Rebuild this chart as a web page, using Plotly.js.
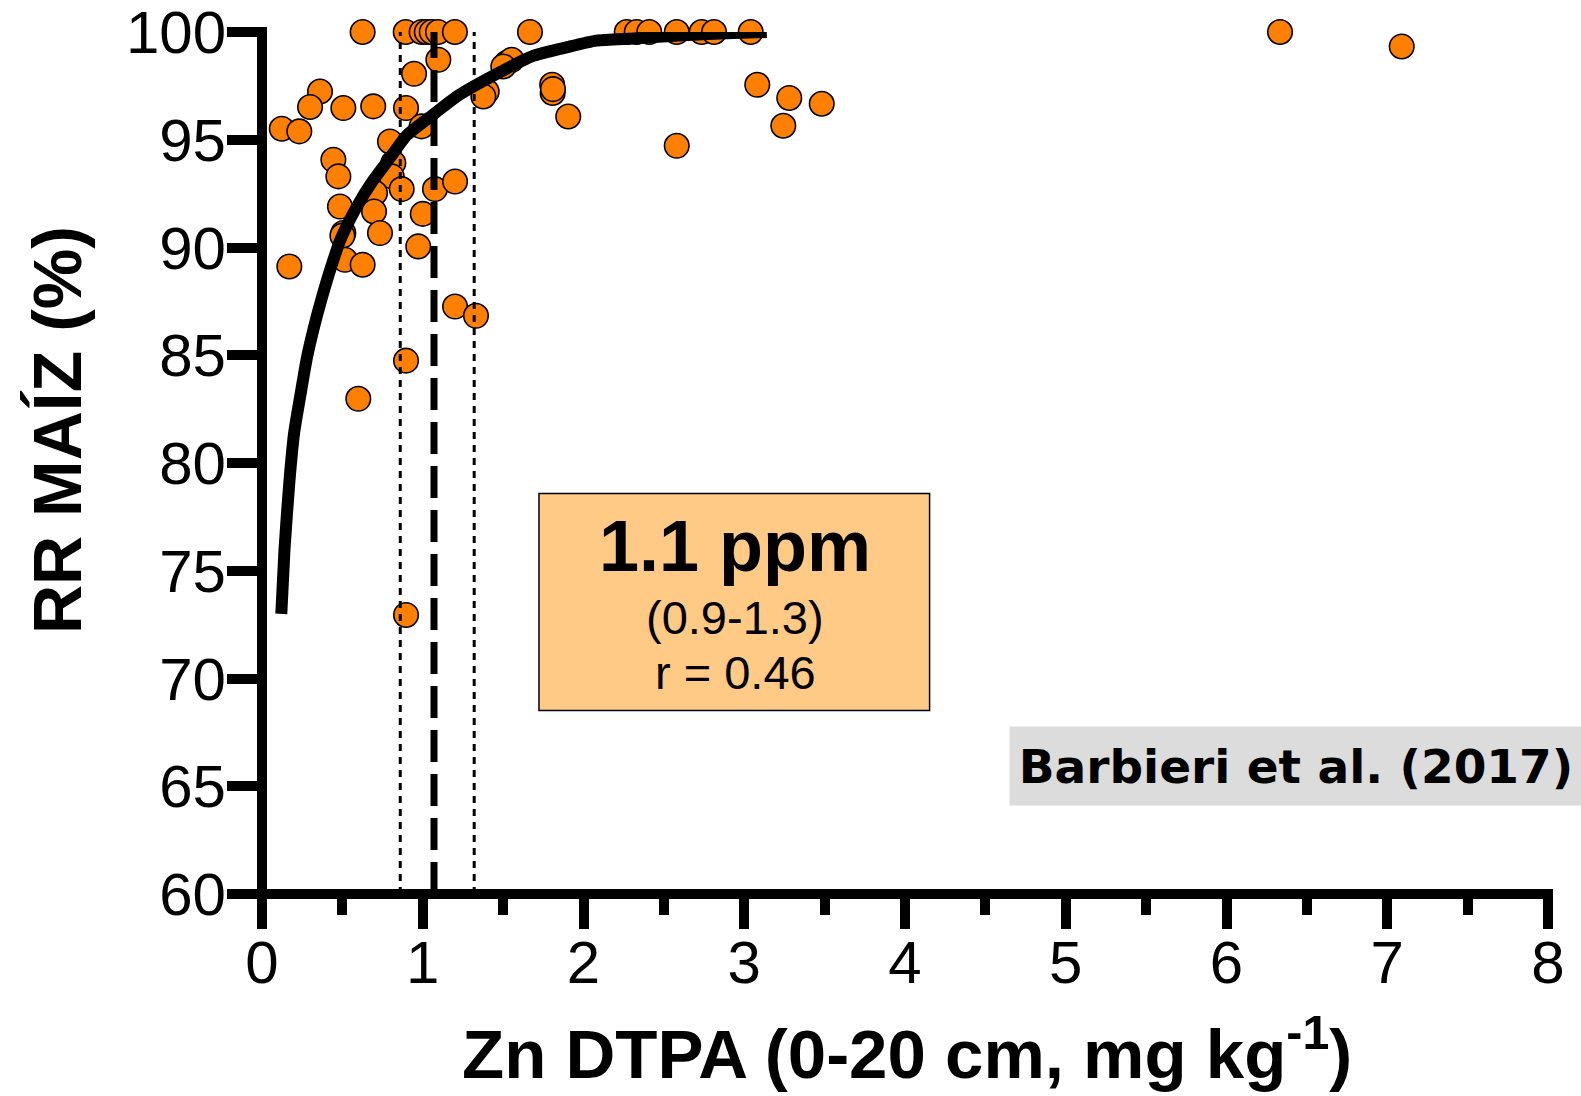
<!DOCTYPE html>
<html>
<head>
<meta charset="utf-8">
<script src="https://cdn.plot.ly/plotly-3.0.1.min.js"></script>
<style>html,body{margin:0;padding:0;background:#fff;}#chart{width:1581px;height:1096px;}</style>
</head>
<body>
<div id="chart"></div>
<script>
// Observed points: Zn DTPA (mg/kg) vs relative yield (%)
const znX = [0.626,0.894,0.993,1.025,1.056,1.095,1.2,1.667,2.269,2.331,2.409,2.58,2.735,2.812,3.04,6.333,
  1.097,0.946,0.361,0.299,0.506,0.692,0.896,0.123,0.232,0.993,1.398,1.377,1.522,1.553,1.501,
  0.796,0.444,0.475,0.817,0.807,0.869,1.076,1.201,0.703,0.485,0.697,1.0,0.734,0.506,0.5,0.972,
  0.17,0.516,0.626,1.201,1.331,0.896,0.599,0.896,1.805,1.808,1.81,1.905,2.58,3.081,3.28,3.482,3.243,7.09];
const rrY = [100,100,100,100,100,100,100,100,100,100,100,100,100,100,100,100,
  98.71,98.06,97.24,96.52,96.47,96.55,96.47,95.51,95.39,95.62,97.24,97.01,98.56,98.71,98.40,
  94.92,94.07,93.30,93.92,93.30,92.71,92.71,93.06,92.53,91.90,91.67,91.56,90.67,90.67,90.55,90.05,
  89.12,89.43,89.20,87.26,86.83,84.75,82.98,72.95,97.55,97.17,97.35,96.08,94.72,97.55,96.94,96.67,95.65,99.33];

// Fitted response curve
const fitX = [0.12,0.14,0.17,0.2,0.24,0.28,0.32,0.37,0.43,0.49,0.59,0.69,0.8,0.9,1.07,1.21,1.42,1.69,1.9,2.08,2.31,2.62,2.93,3.14];
const fitY = [73.0,76.0,79.1,81.4,83.2,84.9,86.2,87.6,89.1,90.4,91.9,93.1,94.2,95.2,96.2,97.0,97.9,98.9,99.3,99.6,99.7,99.85,99.95,100];

// Critical level and its confidence interval
const critX = [1.07];
const ciX = [0.86, 1.32];

const xTicks = [0,1,2,3,4,5,6,7,8];
const yTicks = [60,65,70,75,80,85,90,95,100];

const boxTitle = "1.1 ppm";
const boxCI = "(0.9-1.3)";
const boxR = "r = 0.46";
const sourceLabel = "Barbieri et al. (2017)";
const xTitle = "Zn DTPA (0-20 cm, mg kg<sup>-1</sup>)";
const yTitle = "RR MAÍZ (%)";

const yMin = yTicks[0], yMax = yTicks[yTicks.length - 1];
const xMin = xTicks[0], xMax = xTicks[xTicks.length - 1];

const traces = [];
traces.push({
  x: znX, y: rrY, type: 'scatter', mode: 'markers', cliponaxis: false,
  marker: {size: 24.5, color: '#FF8000', line: {color: '#000', width: 1.6}},
  hoverinfo: 'skip'
});
ciX.forEach(v => traces.push({
  x: [v, v], y: [yMin, yMax], type: 'scatter', mode: 'lines', cliponaxis: false,
  line: {color: '#000', width: 3, dash: '7px,6px'}, hoverinfo: 'skip'
}));
critX.forEach(v => traces.push({
  x: [v, v], y: [yMin, yMax], type: 'scatter', mode: 'lines', cliponaxis: false,
  line: {color: '#000', width: 7, dash: '32px,12px'}, hoverinfo: 'skip'
}));
traces.push({
  x: fitX, y: fitY, type: 'scatter', mode: 'lines', cliponaxis: false,
  line: {color: '#000', width: 12, shape: 'spline', smoothing: 0.6}, hoverinfo: 'skip'
});

const W = 1581, H = 1096, L = 262, R = 33, T = 32, B = 202;
const pw = W - L - R, ph = H - T - B;
const lw = 10;

const tickFont = {family: 'Liberation Sans, Arial, sans-serif', size: 60, color: '#000'};
const layout = {
  width: W, height: H,
  margin: {l: L, r: R, t: T, b: B},
  paper_bgcolor: '#fff', plot_bgcolor: '#fff',
  showlegend: false,
  xaxis: {
    range: [xMin, xMax], tickvals: xTicks, ticktext: xTicks.map(String),
    showline: false,
    ticks: 'outside', ticklen: 34, tickwidth: 10, tickcolor: '#000',
    minor: {dtick: 0.5, tick0: 0, ticks: 'outside', ticklen: 20, tickwidth: 10, tickcolor: '#000'},
    showgrid: false, zeroline: false, tickfont: tickFont, automargin: false,
    ticklabeloverflow: 'allow', ticklabelstandoff: -18
  },
  yaxis: {
    range: [yMin, yMax], tickvals: yTicks, ticktext: yTicks.map(String),
    showline: false,
    ticks: 'outside', ticklen: 34, tickwidth: 10, tickcolor: '#000',
    showgrid: false, zeroline: false, tickfont: tickFont, automargin: false,
    ticklabeloverflow: 'allow', ticklabelstandoff: -11
  },
  shapes: [
    {type: 'rect', xref: 'x', yref: 'y', x0: 1.723, x1: 4.153, y0: 68.51, y1: 78.58,
     fillcolor: '#FFCA85', line: {color: '#000', width: 1.5}, layer: 'above'},
    // axis spines centred on x=0 and y=60
    {type: 'line', xref: 'paper', yref: 'paper', x0: 0, x1: 0, y0: -lw / 2 / ph, y1: 1 + lw / 2 / ph,
     line: {color: '#000', width: lw}, layer: 'above'},
    {type: 'line', xref: 'paper', yref: 'paper', x0: -lw / 2 / pw, x1: 1 + lw / 2 / pw, y0: 0, y1: 0,
     line: {color: '#000', width: lw}, layer: 'above'}
  ],
  annotations: [
    {xref: 'x', yref: 'y', x: 2.943, y: 76.15, text: '<b>' + boxTitle + '</b>', showarrow: false,
     xanchor: 'center', yanchor: 'middle', font: {family: 'Liberation Sans, Arial, sans-serif', size: 72, color: '#000'}},
    {xref: 'x', yref: 'y', x: 2.943, y: 72.84, text: boxCI, showarrow: false,
     xanchor: 'center', yanchor: 'middle', font: {family: 'Liberation Sans, Arial, sans-serif', size: 47, color: '#000'}},
    {xref: 'x', yref: 'y', x: 2.943, y: 70.26, text: boxR, showarrow: false,
     xanchor: 'center', yanchor: 'middle', font: {family: 'Liberation Sans, Arial, sans-serif', size: 47, color: '#000'}},
    {xref: 'paper', yref: 'paper', x: (1009 - L) / pw, y: (T + ph - 726) / ph, xanchor: 'left', yanchor: 'top',
     text: '<b>' + sourceLabel + '</b>', showarrow: false, width: 572, height: 78, borderpad: 0,
     bgcolor: '#DCDCDC', align: 'center', valign: 'middle',
     font: {family: 'DejaVu Sans, sans-serif', size: 47, color: '#000'}},
    {xref: 'paper', yref: 'paper', x: (907 - L) / pw, y: (T + ph - 1049) / ph, xanchor: 'center', yanchor: 'middle',
     text: '<b>' + xTitle + '</b>', showarrow: false,
     font: {family: 'Liberation Sans, Arial, sans-serif', size: 69, color: '#000'}},
    {xref: 'paper', yref: 'paper', x: (57 - L) / pw, y: (T + ph - 430) / ph, xanchor: 'center', yanchor: 'middle',
     text: '<b>' + yTitle + '</b>', showarrow: false, textangle: -90,
     font: {family: 'Liberation Sans, Arial, sans-serif', size: 68, color: '#000'}}
  ]
};

Plotly.newPlot('chart', traces, layout, {staticPlot: true, displayModeBar: false});
</script>
</body>
</html>
